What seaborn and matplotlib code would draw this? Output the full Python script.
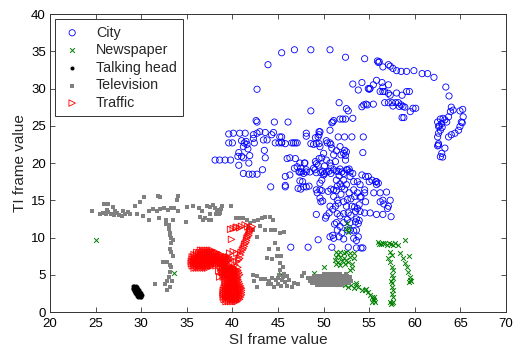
import matplotlib
matplotlib.use("Agg")
import matplotlib.pyplot as plt
import pandas as pd
import seaborn as sns

# (SI, TI) frame values per sequence
city = [
    (43.9, 33.2), (45.4, 34.8), (46.8, 35.2), (48.6, 35.2), (50.7, 35.2), (52.4, 34.2), (54.5, 34.0),
    (55.9, 33.7), (56.1, 33.6), (56.0, 33.5), (56.5, 32.9), (57.1, 33.2), (57.3, 33.0), (57.6, 32.7),
    (58.0, 32.4), (58.5, 32.3), (59.1, 32.3), (59.9, 32.4), (60.8, 32.0), (61.4, 32.0), (62.1, 31.5),
    (63.4, 30.2), (63.75, 29.0),
    (42.7, 29.9), (48.6, 27.0), (42.6, 25.7), (42.7, 25.5), (44.6, 25.5), (46.1, 25.5),
    (53.2, 30.6), (54.2, 30.8), (53.8, 29.8), (54.9, 30.0), (55.1, 30.0), (55.0, 29.9), (55.45, 30.5),
    (55.8, 31.1), (56.4, 30.8), (56.5, 30.2), (57.1, 30.5), (56.7, 29.6), (57.1, 29.35), (57.3, 29.1),
    (58.0, 29.4), (58.6, 29.1), (59.1, 29.6), (59.4, 29.6), (57.1, 28.1), (57.5, 28.1), (57.6, 27.65),
    (58.2, 28.1), (58.5, 27.8), (58.7, 27.6), (58.9, 27.5), (59.5, 26.9), (59.8, 27.35), (60.1, 27.35),
    (58.6, 26.1), (58.8, 26.1), (56.7, 28.1), (56.2, 29.6), (56.5, 29.6), (54.4, 27.8), (54.65, 27.9),
    (54.8, 27.8), (55.45, 27.9), (54.2, 27.55), (51.7, 28.1), (52.5, 27.3), (52.7, 27.0), (57.9, 28.1),
    (58.3, 27.6),
    (62.5, 25.5), (62.8, 25.9), (62.95, 25.3), (63.1, 26.0), (63.3, 25.8), (63.5, 25.5), (62.6, 24.9),
    (62.8, 24.4), (62.6, 24.0), (62.5, 23.5), (62.6, 22.6), (62.5, 22.3), (63.3, 22.0), (62.95, 21.3),
    (62.8, 20.85), (63.05, 20.8), (63.7, 23.5), (64.0, 23.8), (64.4, 24.0), (64.8, 24.4), (64.95, 24.9),
    (65.1, 25.5), (65.3, 26.2), (65.25, 27.2), (64.95, 27.0), (64.0, 27.5), (64.2, 27.1), (63.9, 26.9),
    (63.7, 26.2), (62.7, 25.0), (63.0, 24.8), (62.6, 22.4), (65.2, 25.4),
    (50.9, 25.4), (51.1, 25.7), (51.8, 25.9), (52.1, 25.9), (52.4, 25.9), (53.2, 26.0), (50.7, 24.4),
    (51.6, 23.5), (52.3, 23.5), (53.1, 23.5), (54.35, 23.5), (54.3, 21.4), (51.4, 21.65), (50.7, 22.7),
    (50.9, 22.0), (51.1, 21.1), (51.9, 21.1), (52.2, 21.3), (52.4, 21.0), (52.3, 21.7), (51.8, 22.2),
    (52.5, 21.5), (50.4, 22.7), (50.3, 23.0), (50.8, 22.5), (49.6, 22.2), (49.5, 22.6), (48.6, 22.6),
    (49.1, 23.4), (49.5, 24.2), (49.5, 23.8), (49.6, 24.2), (49.4, 23.5), (48.1, 24.0), (48.1, 23.6),
    (45.4, 23.5), (45.4, 22.8), (46.7, 22.7), (47.1, 22.7), (48.9, 22.5), (49.2, 22.6), (50.0, 21.3),
    (49.5, 20.6), (51.0, 25.5),
    (38.1, 20.4), (38.6, 20.4), (39.2, 20.4), (39.8, 20.4), (39.6, 23.9), (40.1, 24.0), (39.6, 22.7),
    (40.0, 22.7), (40.8, 24.0), (41.4, 24.0), (41.3, 22.7), (41.6, 22.5), (41.2, 22.2), (41.7, 21.9),
    (42.3, 23.8), (42.3, 23.3), (42.4, 22.7), (42.7, 24.0), (43.0, 24.2), (43.6, 24.1), (43.4, 23.1),
    (43.8, 23.1), (43.5, 21.7), (43.6, 20.7), (44.3, 23.8), (44.5, 24.1), (44.7, 22.7), (45.1, 22.7),
    (45.4, 22.7), (45.2, 23.5), (45.8, 22.6), (46.5, 22.7), (46.9, 22.7), (46.3, 20.7), (40.7, 21.4),
    (40.6, 20.9), (41.0, 20.9), (41.2, 20.7), (41.9, 21.0), (40.7, 19.7), (41.2, 18.6), (41.8, 18.5),
    (42.2, 18.5), (42.7, 18.5), (41.8, 20.0), (43.3, 19.1), (44.2, 16.8), (45.8, 16.8), (48.1, 16.8),
    (41.5, 22.9), (41.0, 23.0),
    (46.0, 20.6), (46.9, 20.6), (47.4, 20.0), (47.95, 20.0), (48.1, 19.1), (49.1, 20.2), (49.2, 19.9),
    (49.4, 19.7), (47.4, 18.8), (47.8, 18.6), (49.05, 19.1), (49.9, 18.9), (50.1, 18.6), (50.3, 18.8),
    (50.6, 18.9), (50.8, 18.6), (51.6, 18.9), (51.8, 19.2), (52.0, 18.8), (52.2, 18.6), (52.6, 19.1),
    (52.9, 18.8), (53.2, 18.6), (54.2, 18.4), (54.9, 18.2), (55.3, 17.7), (55.8, 17.5), (56.0, 17.3),
    (56.9, 16.1), (57.3, 15.0), (56.5, 15.0), (45.8, 18.2), (46.3, 18.4), (45.8, 17.0), (47.2, 16.6),
    (47.5, 16.5), (47.8, 16.8), (49.6, 16.4), (49.3, 16.0), (49.8, 16.3), (49.6, 15.3), (49.9, 14.9),
    (49.7, 14.8), (48.9, 19.3), (48.5, 18.8), (47.9, 20.0), (47.5, 19.3), (47.1, 19.5), (46.8, 19.3),
    (47.6, 18.8), (47.3, 18.8), (48.1, 18.8), (47.4, 17.6), (47.7, 17.5), (48.4, 16.9), (49.2, 18.7),
    (49.7, 18.7), (50.0, 18.4), (49.8, 17.7), (49.6, 17.3), (49.2, 16.4), (50.7, 20.0), (50.8, 19.6),
    (51.1, 19.1), (51.4, 18.9), (52.5, 19.1), (52.8, 19.2), (51.7, 18.3), (51.4, 17.7), (51.8, 17.2),
    (51.5, 16.9), (51.1, 16.4), (51.4, 16.3), (52.2, 17.7), (52.5, 17.1), (52.9, 18.2), (53.3, 17.5),
    (53.7, 17.5), (54.0, 17.1), (54.6, 18.2), (55.0, 17.5), (55.7, 17.5), (55.8, 17.1), (55.5, 16.0),
    (56.2, 16.0), (53.3, 16.4), (53.7, 16.0), (53.4, 15.5), (54.0, 15.4), (54.5, 16.0), (54.6, 14.8),
    (52.6, 15.1), (52.2, 14.8), (52.5, 14.2), (53.1, 14.2), (53.4, 14.1), (53.7, 13.9), (53.5, 13.5),
    (50.7, 14.2), (51.0, 13.8), (50.6, 13.3), (50.3, 12.9), (50.2, 12.6), (51.5, 13.2), (51.8, 12.9),
    (52.2, 13.2), (52.7, 13.3), (54.0, 13.5), (54.5, 13.3), (55.1, 13.3), (55.8, 13.1), (56.5, 13.1),
    (57.0, 13.9), (56.6, 14.5), (56.2, 14.8), (57.1, 14.2), (57.4, 12.8), (53.6, 12.5), (53.9, 12.3),
    (53.5, 12.1), (53.8, 11.9), (52.9, 12.0), (51.4, 12.0), (51.2, 11.8), (51.8, 11.5), (52.2, 12.0),
    (52.6, 12.4), (52.6, 11.0), (52.9, 11.0), (53.3, 10.9), (53.6, 11.0), (53.8, 10.1), (51.0, 10.3),
    (50.7, 10.1), (51.1, 9.9), (51.7, 10.1), (52.2, 9.8), (53.3, 9.9), (53.6, 9.6), (50.9, 8.7),
    (52.7, 8.7), (53.6, 8.6), (54.1, 8.6), (54.3, 8.6), (49.4, 9.7), (48.3, 8.7), (46.4, 8.7),
    (49.2, 13.1), (51.5, 15.0), (51.1, 15.5), (54.1, 15.5), (54.5, 16.4), (52.0, 16.8), (52.3, 16.5),
    (51.9, 15.8), (50.8, 16.5), (50.5, 16.2), (52.8, 16.0), (53.0, 15.2), (51.3, 14.2), (51.6, 14.6),
    (53.9, 14.4), (52.0, 10.6), (51.5, 11.0), (53.0, 13.0), (49.8, 20.7), (50.3, 20.4), (50.1, 19.6),
    (52.4, 20.4), (51.3, 20.2),
]

newspaper = [
    (25.0, 9.6), (33.6, 5.3), (45.3, 5.1), (48.9, 5.3), (50.0, 6.0),
    (51.4, 8.1), (51.8, 8.1), (52.2, 7.9), (52.5, 8.1), (52.9, 7.9), (53.3, 7.9), (51.4, 7.4),
    (51.8, 7.4), (52.2, 7.2), (52.5, 7.0), (52.9, 7.4), (53.3, 7.2), (51.6, 6.75), (52.0, 6.9),
    (52.3, 6.5), (52.7, 6.75), (53.1, 6.5), (51.4, 6.5), (51.8, 6.3), (53.1, 5.9), (52.9, 5.6),
    (51.2, 7.0), (51.6, 7.8), (52.6, 11.9), (52.8, 11.3), (52.4, 11.2), (52.7, 10.8),
    (52.7, 3.4), (53.0, 3.6), (53.3, 3.2), (53.6, 3.6), (53.8, 3.4), (54.2, 3.0), (54.5, 2.95),
    (54.9, 2.7), (55.1, 2.3), (55.3, 2.05), (55.45, 1.7), (55.6, 1.4), (55.3, 1.4), (55.5, 2.0),
    (55.5, 1.6), (54.7, 3.1), (53.5, 3.9), (52.3, 3.6),
    (56.0, 9.4), (56.3, 9.1), (56.7, 9.2), (57.0, 9.0), (57.4, 9.1), (57.8, 9.2), (58.2, 9.0),
    (56.1, 9.1), (56.5, 9.3), (57.2, 9.3), (57.6, 9.0), (58.9, 9.6),
    (57.3, 8.1), (57.5, 7.6), (57.1, 7.2), (57.3, 6.75), (57.5, 6.1), (57.6, 5.6), (57.5, 5.0),
    (57.6, 4.5), (57.5, 3.9), (57.5, 3.3), (57.5, 2.4), (57.65, 2.0), (57.3, 1.4), (57.65, 1.3),
    (57.5, 1.2), (57.4, 1.1), (57.6, 3.0), (57.4, 4.2),
    (58.4, 7.9), (58.7, 7.2), (58.9, 6.6), (59.1, 6.1), (59.3, 5.4), (59.5, 4.65), (59.6, 4.1),
    (59.4, 4.0), (59.4, 7.5), (59.5, 4.3),
]

talking_head = [
    (29.1, 3.45), (29.25, 3.5), (29.4, 3.45), (29.55, 3.35), (29.1, 3.25), (29.25, 3.3), (29.4, 3.25),
    (29.55, 3.2), (29.7, 3.1), (29.15, 3.05), (29.3, 3.05), (29.45, 3.0), (29.6, 3.0), (29.75, 2.9),
    (29.25, 2.85), (29.4, 2.8), (29.55, 2.8), (29.7, 2.75), (29.85, 2.7), (29.35, 2.6), (29.5, 2.6),
    (29.65, 2.6), (29.8, 2.55), (29.95, 2.5), (29.45, 2.4), (29.6, 2.4), (29.75, 2.4), (29.9, 2.35),
    (30.05, 2.35), (29.55, 2.2), (29.7, 2.2), (29.85, 2.15), (30.0, 2.15), (29.7, 2.0), (29.85, 1.95),
    (30.0, 2.0),
]

television = [
    (24.57, 13.6), (25.96, 14.5), (26.4, 14.5), (26.9, 14.1), (25.5, 13.2), (25.8, 13.3), (26.1, 13.1),
    (26.4, 13.4), (26.7, 13.2), (27.0, 13.0), (27.3, 13.3), (27.6, 13.0), (27.9, 12.9), (28.2, 13.2),
    (28.5, 13.4), (28.8, 13.1), (29.3, 14.2), (29.9, 14.8), (30.3, 15.5), (29.5, 13.2), (30.2, 12.9),
    (30.9, 13.5), (31.3, 13.8), (31.7, 13.6), (32.1, 13.8), (32.5, 13.9), (32.9, 13.7), (33.3, 14.0),
    (33.6, 13.9), (34.0, 13.6), (31.8, 15.6), (32.1, 15.5), (34.0, 15.6), (33.9, 15.1), (30.9, 12.4),
    (32.0, 12.6), (32.7, 12.4), (33.5, 12.4), (34.9, 12.1), (35.0, 14.1), (35.7, 14.2), (36.3, 13.9),
    (36.8, 12.4), (37.4, 12.4), (37.7, 12.3), (37.5, 14.1), (37.9, 14.4), (38.3, 13.7), (38.5, 13.2),
    (26.2, 13.7), (27.1, 13.6), (28.0, 13.5),
    (32.7, 11.8), (33.0, 11.2), (33.2, 10.6), (33.3, 9.9), (33.3, 9.2), (33.2, 8.5), (33.2, 6.3),
    (32.8, 6.75), (32.4, 6.75), (33.2, 5.4), (33.0, 4.65), (32.8, 4.2), (32.6, 3.75), (32.8, 2.95),
    (31.5, 3.7), (33.2, 3.4), (33.5, 7.5), (33.3, 8.0), (33.5, 9.7), (33.2, 10.4), (33.1, 11.7),
    (33.3, 6.1), (33.4, 4.2),
    (36.7, 13.6), (36.4, 12.7), (37.0, 12.6), (37.5, 13.1), (37.2, 14.2), (38.1, 13.9), (38.3, 13.5),
    (38.6, 13.3), (38.2, 13.1), (38.8, 13.8), (38.9, 14.2), (39.9, 14.2), (40.4, 12.6), (40.8, 12.6),
    (41.2, 12.6), (41.6, 12.4), (41.9, 11.9), (42.4, 12.2), (42.8, 12.4), (43.2, 12.6), (43.6, 12.8),
    (44.1, 12.7), (44.5, 12.4), (43.0, 11.5), (43.6, 11.0), (44.2, 11.0), (44.7, 11.0), (45.2, 10.6),
    (45.7, 10.8), (42.3, 11.0), (41.7, 11.3), (42.7, 10.1), (44.7, 9.3), (45.0, 8.4), (44.0, 8.4),
    (43.8, 7.2), (44.3, 7.1), (44.9, 7.5), (45.3, 7.5), (45.2, 6.6), (45.5, 6.1), (45.2, 5.6),
    (45.7, 5.1), (44.8, 4.3),
    (42.3, 5.0), (42.7, 4.8), (43.1, 4.4), (43.6, 4.4), (44.0, 4.1), (44.2, 3.7), (44.6, 3.4),
    (45.0, 3.7), (45.4, 4.3), (45.8, 4.0), (46.0, 3.5), (46.2, 4.3), (46.7, 3.9), (46.5, 3.4),
    (47.2, 3.7), (47.6, 4.9), (47.9, 5.2), (48.3, 4.6), (48.7, 4.0), (45.5, 4.7), (45.1, 5.0),
    (42.7, 3.4), (42.4, 4.1), (44.3, 4.6), (45.0, 4.5), (45.3, 3.5), (46.0, 4.8), (43.9, 3.8),
    (50.0, 5.1), (50.35, 5.1), (50.7, 5.1), (51.05, 5.1), (51.4, 5.1), (51.8, 5.1),
    (49.0, 4.8), (49.35, 4.8), (49.7, 4.8), (50.05, 4.8), (50.4, 4.8), (50.75, 4.8), (51.1, 4.8),
    (51.45, 4.8), (51.8, 4.8), (52.15, 4.8), (52.6, 4.8),
    (48.6, 4.5), (48.95, 4.5), (49.3, 4.5), (49.65, 4.5), (50.0, 4.5), (50.35, 4.5), (50.7, 4.5),
    (51.05, 4.5), (51.4, 4.5), (51.75, 4.5), (52.1, 4.5), (52.45, 4.5), (52.8, 4.5),
    (48.5, 4.2), (48.85, 4.2), (49.2, 4.2), (49.55, 4.2), (49.9, 4.2), (50.25, 4.2), (50.6, 4.2),
    (50.95, 4.2), (51.3, 4.2), (51.65, 4.2), (52.0, 4.2), (52.35, 4.2), (52.7, 4.2), (53.0, 4.2),
    (48.7, 3.9), (49.05, 3.9), (49.4, 3.9), (49.75, 3.9), (50.1, 3.9), (50.45, 3.9), (50.8, 3.9),
    (51.15, 3.9), (51.5, 3.9), (51.85, 3.9), (52.2, 3.9), (52.55, 3.9), (52.8, 3.9),
    (49.3, 3.6), (49.65, 3.6), (50.0, 3.6), (50.35, 3.6), (50.7, 3.6), (51.05, 3.6), (51.4, 3.6),
    (51.75, 3.6), (52.0, 3.6), (52.5, 5.1), (52.9, 4.7),
]

traffic = [
    (40.1, 11.2), (40.5, 11.4), (41.0, 11.5), (41.4, 11.7), (41.7, 11.45), (42.0, 11.2), (42.2, 11.45),
    (39.8, 11.1), (40.4, 11.3), (40.8, 11.3), (39.9, 9.75), (40.1, 8.1), (40.5, 6.75), (40.8, 7.2),
    (40.9, 7.65), (41.1, 8.3), (41.3, 8.8), (41.5, 9.3), (41.6, 9.9), (41.8, 10.3), (41.9, 10.8),
    (40.7, 7.0), (40.95, 8.0), (41.2, 8.5), (41.35, 9.1), (41.55, 9.6), (41.7, 10.1), (41.85, 10.6),
    (42.0, 11.0), (39.9, 5.4), (38.6, 4.7), (38.8, 5.4), (39.4, 5.6), (39.7, 7.9), (40.5, 7.9),
    (38.5, 5.5), (40.3, 6.3), (40.2, 5.8), (40.6, 6.0), (39.6, 6.9),
    (36.5, 8.3), (36.75, 8.3), (37.0, 8.3), (37.25, 8.3), (37.5, 8.3), (37.75, 8.3),
    (36.1, 8.0), (36.35, 8.0), (36.6, 8.0), (36.85, 8.0), (37.1, 8.0), (37.35, 8.0), (37.6, 8.0),
    (37.85, 8.0), (38.1, 8.0), (38.3, 8.0),
    (35.8, 7.7), (36.05, 7.7), (36.3, 7.7), (36.55, 7.7), (36.8, 7.7), (37.05, 7.7), (37.3, 7.7),
    (37.55, 7.7), (37.8, 7.7), (38.05, 7.7), (38.3, 7.7), (38.55, 7.7), (38.8, 7.7),
    (35.6, 7.4), (35.85, 7.4), (36.1, 7.4), (36.35, 7.4), (36.6, 7.4), (36.85, 7.4), (37.1, 7.4),
    (37.35, 7.4), (37.6, 7.4), (37.85, 7.4), (38.1, 7.4), (38.35, 7.4), (38.6, 7.4), (38.85, 7.4),
    (39.1, 7.4), (39.35, 7.4), (39.6, 7.4),
    (35.6, 7.1), (35.85, 7.1), (36.1, 7.1), (36.35, 7.1), (36.6, 7.1), (36.85, 7.1), (37.1, 7.1),
    (37.35, 7.1), (37.6, 7.1), (37.85, 7.1), (38.1, 7.1), (38.35, 7.1), (38.6, 7.1), (38.85, 7.1),
    (39.1, 7.1), (39.35, 7.1), (39.6, 7.1), (39.8, 7.1),
    (35.5, 6.8), (35.75, 6.8), (36.0, 6.8), (36.25, 6.8), (36.5, 6.8), (36.75, 6.8), (37.0, 6.8),
    (37.25, 6.8), (37.5, 6.8), (37.75, 6.8), (38.0, 6.8), (38.25, 6.8), (38.5, 6.8), (38.75, 6.8),
    (39.0, 6.8), (39.25, 6.8), (39.5, 6.8),
    (35.5, 6.5), (35.75, 6.5), (36.0, 6.5), (36.25, 6.5), (36.5, 6.5), (36.75, 6.5), (37.0, 6.5),
    (37.25, 6.5), (37.5, 6.5), (37.75, 6.5), (38.0, 6.5), (38.25, 6.5), (38.5, 6.5), (38.75, 6.5),
    (39.0, 6.5), (39.2, 6.5),
    (35.6, 6.2), (35.85, 6.2), (36.1, 6.2), (36.35, 6.2), (36.6, 6.2), (36.85, 6.2), (37.1, 6.2),
    (37.35, 6.2), (37.6, 6.2), (37.85, 6.2), (38.2, 6.2), (38.9, 6.2), (39.15, 6.2), (39.4, 6.2),
    (39.65, 6.2), (39.8, 6.2),
    (35.8, 5.9), (36.05, 5.9), (36.3, 5.9), (36.55, 5.9), (36.8, 5.9), (37.05, 5.9), (37.3, 5.9),
    (38.7, 5.9), (38.95, 5.9), (39.2, 5.9), (39.45, 5.9), (39.7, 5.9), (39.95, 5.9), (40.1, 5.9),
    (38.9, 5.6), (39.15, 5.6), (39.4, 5.6), (39.65, 5.6), (39.9, 5.6), (40.15, 5.6), (40.4, 5.6),
    (40.6, 5.6),
    (38.9, 5.3), (39.15, 5.3), (39.4, 5.3), (39.65, 5.3), (39.9, 5.3), (40.15, 5.3), (40.4, 5.3),
    (40.7, 5.3),
    (39.0, 5.0), (39.25, 5.0), (39.5, 5.0), (39.75, 5.0), (40.0, 5.0), (40.25, 5.0), (40.5, 5.0),
    (40.8, 5.0),
    (39.0, 4.7), (39.25, 4.7), (39.5, 4.7), (39.75, 4.7), (40.0, 4.7), (40.25, 4.7), (40.5, 4.7),
    (40.6, 4.7),
    (39.2, 4.4), (39.45, 4.4), (39.7, 4.4), (39.95, 4.4), (40.2, 4.4), (40.45, 4.4), (40.6, 4.4),
    (39.2, 4.1), (39.45, 4.1), (39.7, 4.1), (39.95, 4.1), (40.2, 4.1), (40.45, 4.1), (40.7, 4.1),
    (39.3, 3.8), (39.55, 3.8), (39.8, 3.8), (40.05, 3.8), (40.3, 3.8), (40.55, 3.8), (40.8, 3.8),
    (39.2, 3.5), (39.45, 3.5), (39.7, 3.5), (39.95, 3.5), (40.2, 3.5), (40.45, 3.5), (40.7, 3.5),
    (40.9, 3.5),
    (39.1, 3.2), (39.35, 3.2), (39.6, 3.2), (39.85, 3.2), (40.1, 3.2), (40.35, 3.2), (40.6, 3.2),
    (40.85, 3.2), (41.0, 3.2),
    (39.0, 2.9), (39.25, 2.9), (39.5, 2.9), (39.75, 2.9), (40.0, 2.9), (40.25, 2.9), (40.5, 2.9),
    (40.75, 2.9), (41.0, 2.9),
    (39.0, 2.6), (39.25, 2.6), (39.5, 2.6), (39.75, 2.6), (40.0, 2.6), (40.25, 2.6), (40.5, 2.6),
    (40.75, 2.6), (41.0, 2.6),
    (39.0, 2.3), (39.25, 2.3), (39.5, 2.3), (39.75, 2.3), (40.0, 2.3), (40.25, 2.3), (40.5, 2.3),
    (40.75, 2.3), (41.0, 2.3),
    (39.0, 2.0), (39.25, 2.0), (39.5, 2.0), (39.75, 2.0), (40.0, 2.0), (40.25, 2.0), (40.5, 2.0),
    (40.75, 2.0), (40.9, 2.0),
    (39.1, 1.7), (39.35, 1.7), (39.6, 1.7), (39.85, 1.7), (40.1, 1.7), (40.35, 1.7), (40.6, 1.7),
    (40.8, 1.7),
    (39.3, 1.4), (39.55, 1.4), (39.8, 1.4), (40.05, 1.4), (40.3, 1.4), (40.5, 1.4),
]

x_ticks = [20, 25, 30, 35, 40, 45, 50, 55, 60, 65, 70]
y_ticks = [0, 5, 10, 15, 20, 25, 30, 35, 40]

sns.set_style("ticks")
plt.rcParams["font.family"] = ["Liberation Sans", "DejaVu Sans"]
plt.rcParams.update({
    "xtick.direction": "in", "ytick.direction": "in",
    "xtick.top": True, "ytick.right": True,
    "xtick.major.size": 3.5, "ytick.major.size": 3.5,
    "xtick.major.width": 0.6, "ytick.major.width": 0.6,
    "xtick.color": "#333333", "ytick.color": "#333333",
    "xtick.labelcolor": "black", "ytick.labelcolor": "black",
})

fig = plt.figure(figsize=(5.24, 3.48), dpi=100)
ax = fig.add_axes([0.0954, 0.1034, 0.8703, 0.8563])


def frame(points):
    return pd.DataFrame(points, columns=["si", "ti"])


styles = [
    ("City", city, dict(marker="o", s=20, facecolor="none", edgecolor="#0000ff", linewidth=0.6)),
    ("Newspaper", newspaper, dict(marker="x", s=12, color="#008000", linewidth=0.7)),
    ("Talking head", talking_head, dict(marker=".", s=34, color="black", linewidth=0)),
    ("Television", television, dict(marker="s", s=10, color="#808080", linewidth=0)),
    ("Traffic", traffic, dict(marker=">", s=22, facecolor="none", edgecolor="#ff0000", linewidth=0.6)),
]

for name, pts, kw in styles:
    sns.scatterplot(data=frame(pts), x="si", y="ti", ax=ax, label=name, **kw)

ax.set_xlim(20, 70)
ax.set_ylim(0, 40)
ax.set_xticks(x_ticks)
ax.set_yticks(y_ticks)
ax.tick_params(axis="x", labelsize=9.5, pad=4.5)
ax.tick_params(axis="y", labelsize=9.5, pad=3)
ax.set_xlabel("SI frame value", fontsize=11, labelpad=2)
ax.set_ylabel("TI frame value", fontsize=11, labelpad=3)
for sp in ax.spines.values():
    sp.set_visible(True)
    sp.set_color("#333333")
    sp.set_linewidth(0.7)

leg = ax.legend(loc="upper left", bbox_to_anchor=(0.011, 0.983), borderaxespad=0,
                fontsize=10.3, frameon=True, fancybox=False, framealpha=1,
                edgecolor="#333333", labelspacing=0.25, handletextpad=0.9,
                borderpad=0.45, handlelength=1.5)
leg.get_frame().set_linewidth(0.7)

fig.savefig("out.png", dpi=100)
